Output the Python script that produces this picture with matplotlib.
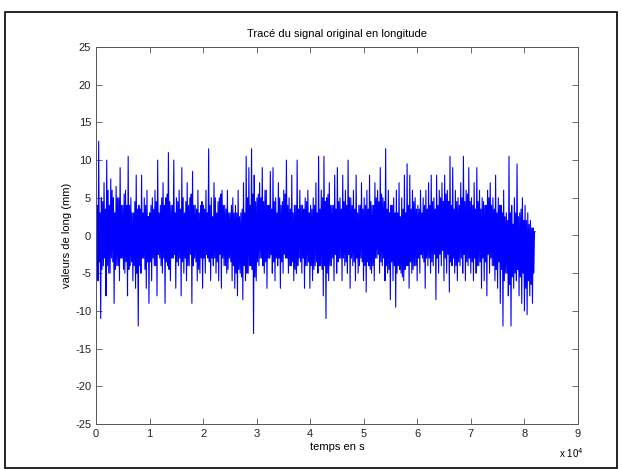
"""Tracé du signal original en longitude (style MATLAB)."""
import numpy as np
import matplotlib
matplotlib.use('Agg')
import matplotlib.pyplot as plt
from matplotlib.patches import Rectangle

plt.rcParams['font.family'] = ['Liberation Sans', 'DejaVu Sans']
plt.rcParams['axes.unicode_minus'] = False

# pics du signal, une paire (haut, bas) tous les 500 s (mm)
long_0_2e4 = [
    1, -6, 12.5, -11, 5, -4, 7, -8, 10, -5, 4, -3, 6, -9, 3, -4, 5, -6, 9, -3,
    4, -5, 6, -8, 10.5, -4, 5, -6, 3, -7, 8, -12, 4, -5, 8, -3, 5, -7, 6, -9,
    3, -6, 5, -4, 6, -8, 10, -3, 4, -5, 7, -9, 5, -4, 11, -6, 4, -3, 10, -7,
    5, -4, 6, -8, 9, -5, 3, -6, 7, -4, 5, -9, 8.5, -3, 4, -6, 6, -5, 4, -7,
]
long_2_4e4 = [
    4, -5, 6, -3, 11.5, -6, 5, -4, 7, -5, 3, -6, 5, -7, 6, -4, 4, -5, 6, -3,
    3, -6, 5, -7, 4, -8, 6, -5, 3, -8.5, 7, -6, 10.5, -5, 9, -4, 11.5, -13, 8, -6,
    5, -4, 7, -3, 9, -5, 6, -7, 4, -3, 8.5, -5, 9, -6, 5, -4, 7, -7, 4, -5,
    6, -3, 10, -5, 5, -4, 8, -6, 4, -5, 10, -3, 6, -5, 4, -7, 5, -4, 6, -7,
]
long_4_6e4 = [
    4, -6, 5, -4, 7, -5, 10.5, -4, 6, -8, 10.5, -11, 5, -6, 7, -4, 4, -6, 8, -5,
    9, -3, 5, -6, 8, -4, 6, -5, 10, -7, 5, -4, 6, -6, 8, -5, 4, -3, 7, -6,
    5, -7.5, 6, -4, 8, -5, 4, -6, 7, -3, 6, -5, 9, -4, 5, -6, 11.5, -5, 6, -8.5,
    4, -6, 5, -9.5, 6, -4, 7, -5, 5, -6, 8, -4, 9.5, -7, 8, -5, 6, -4, 5, -6,
]
long_6_82e4 = [
    4, -5, 6, -3, 5, -7, 6, -4, 7, -5, 8, -4, 5, -8.5, 8, -5, 6, -4, 7, -6,
    8, -5, 6, -7.5, 10.5, -4, 9, -5, 6, -6, 5, -4, 7, -5, 10.5, -6, 6, -4, 9, -5,
    5, -6, 7, -5, 9, -4, 6, -7, 5, -6, 4, -8, 6, -5, 7, -4, 5, -6, 8, -7,
    5, -9, 4, -12, 6, -5, 3, -8, 10.5, -12, 4, -7, 5, -6, 9.5, -8, 3, -9, 5, -10,
    4, -10.5, 3, -8, 2, -9, 1, 0.5,
]
long_peaks = long_0_2e4 + long_2_4e4 + long_4_6e4 + long_6_82e4

# oscillation du coeur dense entre deux pics, une valeur tous les 500 s (mm)
mid_lo = [
    -4, -3.5, -4.5, -3, -4, -5, -3.5, -4.5, -4, -3, -4.5, -3.5, -4.5, -3.5, -4, -5,
    -4, -3, -4.5, -3.5, -3.5, -3, -4, -2.5, -4, -3, -3.5, -4.5, -3, -2.5, -3.5, -3,
    -3.5, -3, -4, -2.5, -4, -3.5, -4.5, -3, -3, -2.5, -3.5, -3, -3, -3.5, -2.5, -3,
    -4, -4.5, -3.5, -4, -5, -4.5, -5.5, -4, -5, -4, -4.5, -5.5, -3.5, -3, -4, -3.5,
    -3, -2.5, -3.5, -3, -3, -3.5, -2.5, -3, -4, -3.5, -4.5, -4, -3.5, -3, -4, -3.5,
    -4, -4.5, -3.5, -4, -4.5, -4, -5, -4, -3, -2.5, -3.5, -3, -3, -3.5, -2.5, -3,
    -3.5, -3, -4, -3.5, -4, -3.5, -4.5, -4, -3, -2.5, -3.5, -3, -4, -4.5, -3.5, -4,
    -5, -4.5, -5.5, -4.5, -4, -3.5, -4.5, -4, -3, -2.5, -3.5, -3, -3, -3.5, -2.5, -3,
    -2.5, -2, -3, -2.5, -3.5, -3, -4, -3.5, -3, -2.5, -3.5, -3, -3.5, -3, -4, -3.5,
    -3, -3.5, -2.5, -3, -4, -4.5, -3.5, -4.5, -6, -5, -6.5, -5.5, -5, -4.5, -5.5, -5,
    -7, -6, -6.5, -5,
]
mid_hi = [
    4, 3, 4.5, 3.5, 6, 7.5, 5, 6.5, 5, 4, 5.5, 4, 4, 3, 4.5, 3.5,
    3.5, 3, 4, 2.5, 4, 3.5, 4.5, 3, 5, 4, 5.5, 4.5, 4, 3, 4.5, 3.5,
    5, 4.5, 4, 5.5, 4, 3.5, 3, 4.5, 3.5, 3, 4, 2.5, 5, 4.5, 5.5, 4,
    3.5, 3, 4, 3, 3, 2.5, 3.5, 3, 5, 4, 5.5, 4.5, 5.5, 5, 4.5, 6,
    4, 3.5, 4.5, 3, 5, 4.5, 5.5, 4, 3.5, 3, 4, 3.5, 4, 3.5, 4.5, 3,
    3.5, 4, 3, 3.5, 5, 4.5, 5.5, 4, 4, 3.5, 4.5, 3.5, 4.5, 4, 5, 4,
    3.5, 3, 4, 3.5, 4, 3.5, 4.5, 4, 5, 4.5, 5.5, 4.5, 3.5, 3, 4, 3,
    3, 2.5, 3.5, 3, 4, 3.5, 4.5, 3.5, 3.5, 3, 4, 3.5, 4, 4.5, 3.5, 4,
    5, 4.5, 5.5, 4.5, 4, 3.5, 4.5, 4, 5, 4.5, 5.5, 4.5, 4, 3.5, 4.5, 3.5,
    4.5, 4, 5, 4, 3.5, 3, 4, 3, 2.5, 2, 3, 1.5, 3, 2.5, 3.5, 2,
    2, 1.5, 1, 0.5,
]
t_end = 8.2e4

x_ticks = list(range(0, 10))
y_ticks = list(range(-25, 30, 5))

# signal : pic haut, creux du coeur, crête du coeur, pic bas
long_mm = []
for i in range(len(mid_lo)):
    long_mm += [long_peaks[2 * i], mid_lo[i], mid_hi[i], long_peaks[2 * i + 1]]
t = np.linspace(0, t_end, len(long_mm))

fig = plt.figure(figsize=(6.22, 4.69), dpi=100)
ax = fig.add_axes([96 / 622, 45 / 469, 482 / 622, 377 / 469])
ax.plot(t, long_mm, color='#0000ff', linewidth=0.8)

ax.set_xlim(0, 9e4)
ax.set_ylim(-25, 25)
ax.set_xticks([v * 1e4 for v in x_ticks])
ax.set_xticklabels([str(v) for v in x_ticks])
ax.set_yticks(y_ticks)
ax.tick_params(direction='in', length=4, labelsize=8, top=True, right=True,
               color='#555555', labelcolor='#222222', width=0.6)
for s in ax.spines.values():
    s.set_color('#555555')
    s.set_linewidth(0.7)

ax.set_title('Tracé du signal original en longitude', fontsize=8, pad=7)
ax.set_xlabel('temps en s', fontsize=8, labelpad=2)
ax.set_ylabel('valeurs de long (mm)', fontsize=8, labelpad=2)
ax.text(0.985, -0.06, r'x 10$^4$', transform=ax.transAxes, fontsize=7,
        ha='center', va='top')

fig.patches.append(Rectangle((5 / 622, 1 / 469), 612 / 622, 456 / 469,
                             transform=fig.transFigure, fill=False,
                             edgecolor='black', linewidth=1.2))

fig.savefig('out.png', dpi=100)
